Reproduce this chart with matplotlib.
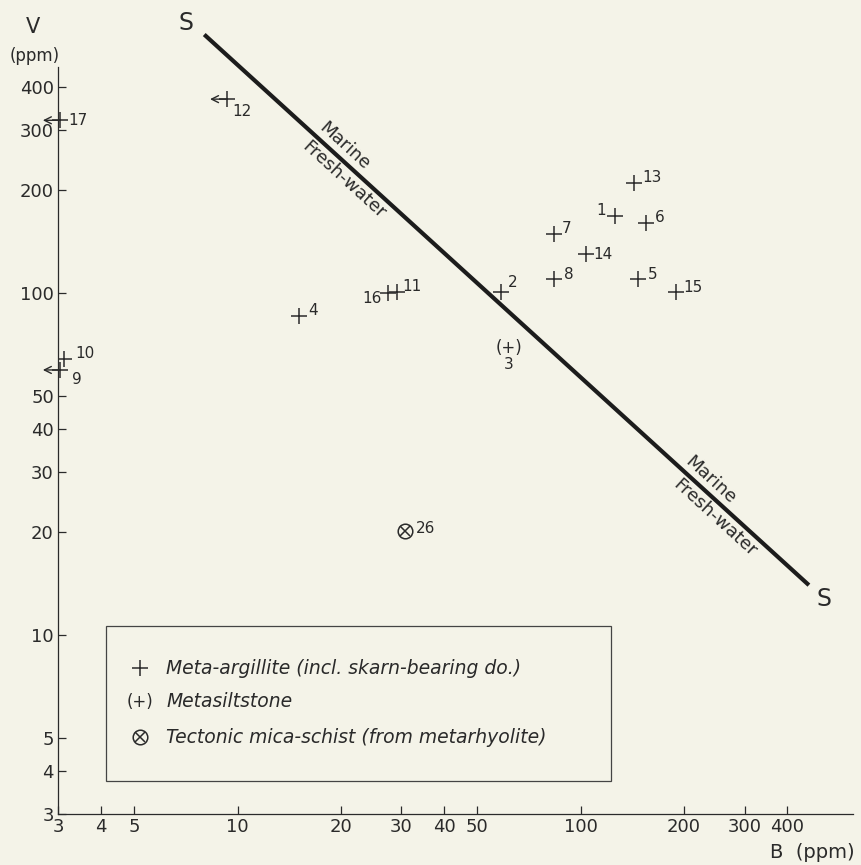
import matplotlib
matplotlib.use("Agg")
import matplotlib.pyplot as plt
from matplotlib.patches import Rectangle

# ---------------- data ----------------
# Meta-argillite samples: B (ppm), V (ppm)
arg_ids = ["1", "2", "4", "5", "6", "7", "8", "10", "11", "13", "14", "15", "16"]
arg_B = [126, 58.5, 15.1, 147, 155, 83.4, 83.5, 3.13, 29.2, 143, 103.5, 190, 27.5]
arg_V = [168, 100.7, 85.7, 110, 160, 149, 110, 64.1, 101, 210, 130, 100.7, 100]

# samples with B below the given value (arrow pointing left)
less_ids = ["17", "12", "9"]
less_B = [3.03, 9.3, 3.03]
less_V = [320, 369, 59.6]

# Metasiltstone
silt_ids = ["3"]
silt_B = [61.6]
silt_V = [69]

# Tectonic mica-schist
schist_ids = ["26"]
schist_B = [30.7]
schist_V = [20.1]

# boundary line S-S
line_B = [8.0, 462]
line_V = [570, 14.0]

x_ticks = [3, 4, 5, 10, 20, 30, 40, 50, 100, 200, 300, 400]
y_ticks = [3, 4, 5, 10, 20, 30, 40, 50, 100, 200, 300, 400]

legend_labels = ["Meta-argillite (incl. skarn-bearing do.)",
                 "Metasiltstone",
                 "Tectonic mica-schist (from metarhyolite)"]

# label offsets (points) and alignment per sample id
label_pos = {
    "1": (-7, 4, "right"), "2": (5, 7, "left"), "4": (7, 4, "left"),
    "5": (7, 3, "left"), "6": (6, 4, "left"), "7": (6, 4, "left"),
    "8": (7, 3, "left"), "10": (8, 4, "left"), "11": (4, 4, "left"),
    "13": (6, 4, "left"), "14": (5, 0, "left"), "15": (5, 3, "left"),
    "16": (-5, -4, "right"), "17": (6, 0, "left"), "12": (4, -9, "left"),
    "9": (9, -7, "left"), "3": (0, -12, "center"), "26": (8, 2, "left"),
}

# ---------------- style ----------------
BG = "#f4f3e8"
INK = "#2a2a2a"
plt.rcParams["font.family"] = ["DejaVu Sans"]

fig = plt.figure(figsize=(8.61, 8.65), dpi=100, facecolor=BG)
ax = fig.add_axes([0.0674, 0.0590, 0.9233, 0.8635])
ax.set_facecolor(BG)
ax.set_xscale("log")
ax.set_yscale("log")
ax.set_xlim(3, 621)
ax.set_ylim(3, 458)

for s in ["top", "right"]:
    ax.spines[s].set_visible(False)
for s in ["left", "bottom"]:
    ax.spines[s].set_color(INK)
    ax.spines[s].set_linewidth(0.9)

ax.set_xticks(x_ticks)
ax.set_xticklabels([str(t) for t in x_ticks])
ax.set_yticks(y_ticks)
ax.set_yticklabels([str(t) for t in y_ticks])
ax.minorticks_off()
ax.tick_params(direction="in", length=6, width=0.9, color=INK,
               labelcolor=INK, labelsize=13, pad=3)

# axis titles
fig.text(33 / 861, 1 - 27 / 865, "V", ha="center", va="center",
         fontsize=15, color=INK)
fig.text(35 / 861, 1 - 56 / 865, "(ppm)", ha="center", va="center",
         fontsize=12, color=INK)
fig.text(770 / 861, 1 - 852 / 865, "B  (ppm)", ha="left", va="center",
         fontsize=14, color=INK)

# boundary line
ax.plot(line_B, line_V, color="#1c1c1c", lw=3.0, solid_capstyle="butt",
        clip_on=False, zorder=2)
ax.annotate("S", xy=(line_B[0], line_V[0]), xytext=(-13, 8),
            textcoords="offset points", ha="center", va="center",
            fontsize=17, color=INK, annotation_clip=False)
ax.annotate("S", xy=(line_B[1], line_V[1]), xytext=(11, -10),
            textcoords="offset points", ha="center", va="center",
            fontsize=17, color=INK, annotation_clip=False)

# Marine / Fresh-water labels (rotated along the line)
rot = -42.3
side_labels = [("Marine", 0.360, 0.894), ("Fresh-water", 0.360, 0.849),
               ("Marine", 0.821, 0.447), ("Fresh-water", 0.826, 0.396)]
for txt, fx, fy in side_labels:
    ax.text(fx, fy, txt, transform=ax.transAxes, rotation=rot,
            rotation_mode="anchor", ha="center", va="center", fontsize=13,
            color=INK)

# points
ax.plot(arg_B, arg_V, ls="none", marker="+", ms=11, mew=1.1, color=INK,
        zorder=3)
ax.plot(less_B, less_V, ls="none", marker="+", ms=11, mew=1.1, color=INK,
        zorder=3, clip_on=False)
for b, v in zip(less_B, less_V):
    ax.annotate("", xy=(b, v), xytext=(-12, 0), textcoords="offset points",
                arrowprops=dict(arrowstyle="<-, head_length=0.5, head_width=0.25",
                                color=INK, lw=1.0, shrinkA=0, shrinkB=0),
                annotation_clip=False)
for b, v in zip(silt_B, silt_V):
    ax.annotate("(+)", xy=(b, v), ha="center", va="center", fontsize=12,
                color=INK)
ax.plot(schist_B, schist_V, ls="none", marker="o", ms=10.5, mfc="none",
        mew=1.1, color=INK, zorder=3)
ax.plot(schist_B, schist_V, ls="none", marker="x", ms=7, mew=1.1,
        color=INK, zorder=3)

# point labels
for ids, bs, vs in [(arg_ids, arg_B, arg_V), (less_ids, less_B, less_V),
                    (silt_ids, silt_B, silt_V),
                    (schist_ids, schist_B, schist_V)]:
    for i, b, v in zip(ids, bs, vs):
        dx, dy, ha = label_pos[i]
        ax.annotate(i, xy=(b, v), xytext=(dx, dy), textcoords="offset points",
                    ha=ha, va="center", fontsize=11, color=INK,
                    annotation_clip=False)

# legend (manual box)
ax.add_patch(Rectangle((0.060, 0.044), 0.636, 0.208, transform=ax.transAxes,
                       fill=False, edgecolor="#444444", lw=0.9, zorder=4))
leg_y = [0.195, 0.150, 0.103]
hx = 0.103
ax.plot([hx], [leg_y[0]], transform=ax.transAxes, ls="none", marker="+",
        ms=11, mew=1.1, color=INK, zorder=5)
ax.text(hx, leg_y[1], "(+)", transform=ax.transAxes, ha="center",
        va="center", fontsize=12, color=INK, zorder=5)
ax.plot([hx], [leg_y[2]], transform=ax.transAxes, ls="none", marker="o",
        ms=10.5, mfc="none", mew=1.1, color=INK, zorder=5)
ax.plot([hx], [leg_y[2]], transform=ax.transAxes, ls="none", marker="x",
        ms=7, mew=1.1, color=INK, zorder=5)
for yy, lab in zip(leg_y, legend_labels):
    ax.text(0.136, yy, lab, transform=ax.transAxes, ha="left", va="center",
            fontsize=13.5, style="italic", color=INK, zorder=5)

fig.savefig("out.png", dpi=100, facecolor=BG)
